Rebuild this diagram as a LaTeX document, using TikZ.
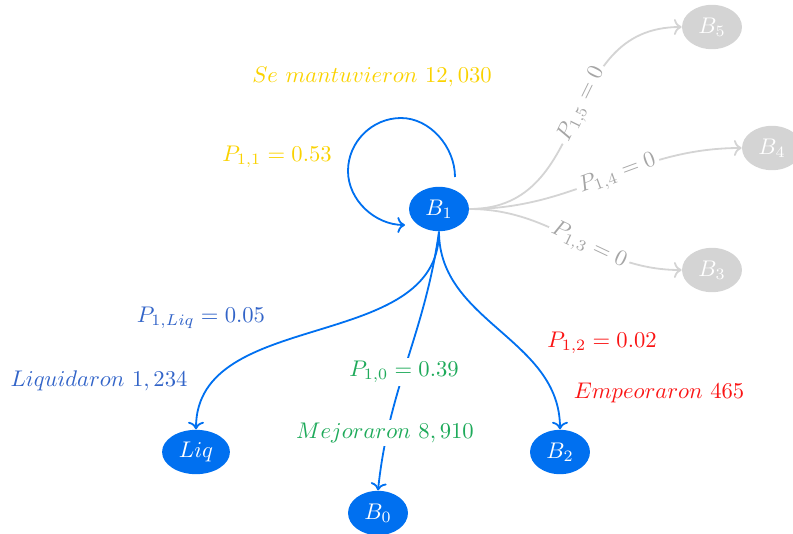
\documentclass[tikz,border=0pt]{standalone}
\usetikzlibrary{shapes.geometric,arrows.meta}
\definecolor{nodeblue}{RGB}{0,112,240}
\definecolor{labblue}{RGB}{50,100,200}
\definecolor{labgreen}{RGB}{30,170,90}
\definecolor{labred}{RGB}{250,20,20}
\definecolor{labyellow}{RGB}{250,210,0}
\definecolor{nodegray}{RGB}{212,212,212}
\definecolor{textgray}{RGB}{165,165,165}
\begin{document}
\begin{tikzpicture}[x=0.442pt,y=-0.442pt,
  bnode/.style={ellipse,fill=nodeblue,text=white,inner sep=0pt,minimum width=26.5pt,minimum height=19.6pt},
  gnode/.style={ellipse,fill=nodegray,text=white,inner sep=0pt,minimum width=26.5pt,minimum height=19.6pt},
  bedge/.style={draw=nodeblue,thick,->},
  gedge/.style={draw=nodegray,thick,->},
  glabel/.style={sloped,fill=white,text=textgray,inner sep=1.5pt}]
\useasboundingbox (0,0) rectangle (793,533);
% nodes
\node[bnode] (B1) at (439,209) {$B_1$};
\node[gnode] (B5) at (712,27) {$B_5$};
\node[gnode] (B4) at (772,148) {$B_4$};
\node[gnode] (B3) at (712,270) {$B_3$};
\node[bnode,minimum width=30pt] (Liq) at (196,452) {$Liq$};
\node[bnode] (B2) at (560,452) {$B_2$};
\node[bnode] (B0) at (378,513) {$B_0$};
% self loop
\coordinate (loopS) at (455,177);
\coordinate (loopE) at (405,225);
\draw[bedge] (loopS) .. controls (455,147) and (430,118) .. (401,118)
  .. controls (372,118) and (348,142) .. (348,171)
  .. controls (348,200) and (375,225) .. (loopE);
% blue edges
\draw[bedge] (B1.south) to[out=-90,in=90] (Liq.north);
\draw[bedge] (B1.south) to[out=-90,in=90] (B2.north);
\draw[bedge] (B1.south) to[out=-98,in=84] (B0.north);
% gray edges
\draw[gedge] (B1.east) to[out=0,in=180,looseness=1.15] node[glabel,pos=0.55] {$P_{1,5}=0$} (B5.west);
\draw[gedge] (B1.east) to[out=0,in=180] node[glabel,pos=0.55] {$P_{1,4}=0$} (B4.west);
\draw[gedge] (B1.east) to[out=0,in=180] node[glabel,pos=0.57] {$P_{1,3}=0$} (B3.west);
% labels
\node[text=labyellow] (tSe) at (372,77) {$Se\ mantuvieron\ 12,030$};
\node[text=labyellow] (tP11) at (277,157) {$P_{1,1}=0.53$};
\node[text=labblue] (tPLiq) at (201,318) {$P_{1,Liq}=0.05$};
\node[text=labblue] (tLiq) at (99,381) {$Liquidaron\ 1,234$};
\node[text=labgreen,fill=white,inner sep=1.5pt] (tP10) at (404,372) {$P_{1,0}=0.39$};
\node[text=labgreen,fill=white,inner sep=1.5pt] (tMej) at (385,433) {$Mejoraron\ 8,910$};
\node[text=labred] (tP12) at (602,343) {$P_{1,2}=0.02$};
\node[text=labred] (tEmp) at (659,393) {$Empeoraron\ 465$};
\end{tikzpicture}
\end{document}
